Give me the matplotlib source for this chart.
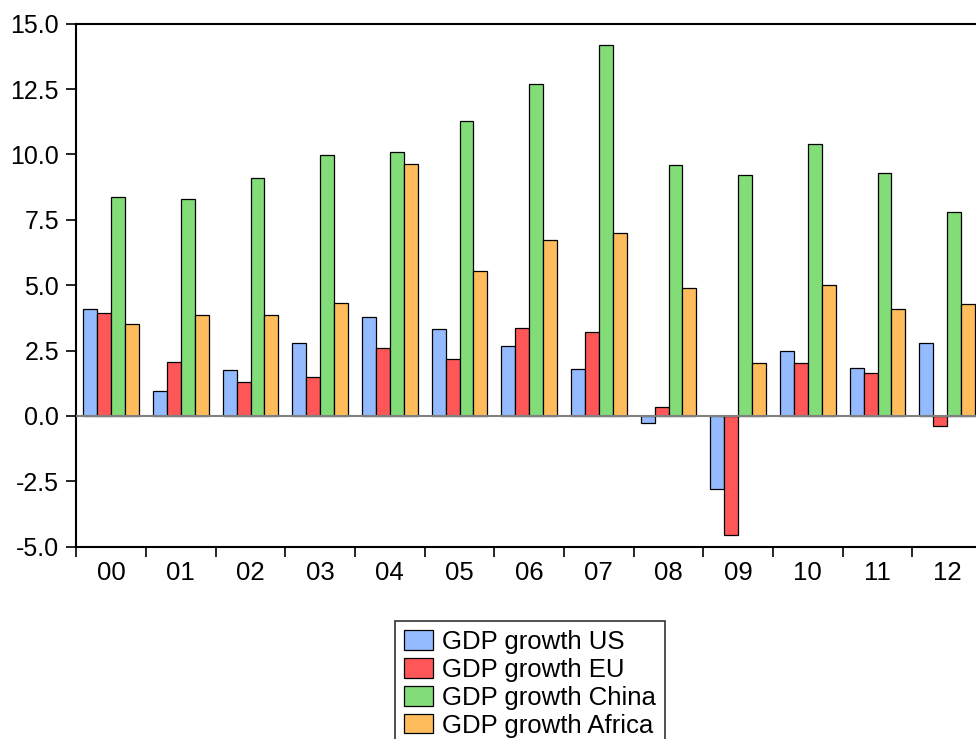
import matplotlib
matplotlib.use("Agg")
import matplotlib.pyplot as plt
import numpy as np

# GDP growth (%) by year, 2000-2012
years = ["00", "01", "02", "03", "04", "05", "06", "07", "08", "09", "10", "11", "12"]
gdp_us = [4.08, 0.94, 1.77, 2.80, 3.80, 3.34, 2.66, 1.79, -0.28, -2.80, 2.50, 1.85, 2.78]
gdp_eu = [3.94, 2.05, 1.29, 1.48, 2.61, 2.19, 3.38, 3.20, 0.36, -4.54, 2.04, 1.63, -0.37]
gdp_china = [8.39, 8.30, 9.09, 9.99, 10.10, 11.29, 12.70, 14.20, 9.61, 9.20, 10.39, 9.29, 7.80]
gdp_africa = [3.51, 3.87, 3.86, 4.33, 9.62, 5.56, 6.73, 7.01, 4.91, 2.04, 5.02, 4.08, 4.28]

series = [
    ("GDP growth US", gdp_us, "#94BBFF"),
    ("GDP growth EU", gdp_eu, "#FF5757"),
    ("GDP growth China", gdp_china, "#82DC78"),
    ("GDP growth Africa", gdp_africa, "#FFBC5C"),
]

plt.rcParams['font.family'] = ['Liberation Sans', 'DejaVu Sans']

fig = plt.figure(figsize=(9.76, 7.39), dpi=100)
ax = fig.add_axes([0.0782, 0.2602, 0.928, 0.7078])

n = len(years)
x = np.arange(n) + 0.5
w = 0.2
handles = []
for j, (name, vals, col) in enumerate(series):
    b = ax.bar(x + (j - 1.5) * w, vals, width=w, color=col,
               edgecolor="black", linewidth=0.9, label=name, zorder=2)
    handles.append(b)

ax.axhline(0, color="#808080", linewidth=1.5, zorder=3)

ax.set_xlim(0, n)
ax.set_ylim(-5, 15)
ax.set_yticks(np.arange(-5, 15.1, 2.5))
ax.set_yticklabels([f"{v:.1f}" for v in np.arange(-5, 15.1, 2.5)])

# ticks at group boundaries, labels centred
ax.set_xticks(np.arange(0, n + 1))
ax.set_xticklabels([])
ax.set_xticks(x, minor=True)
ax.set_xticklabels(years, minor=True)
ax.tick_params(axis="x", which="minor", length=0, labelsize=18.5, pad=10)
ax.tick_params(axis="x", which="major", length=7.5, width=1.2, direction="out")
ax.tick_params(axis="y", length=7.5, width=1.2, labelsize=18, pad=5)

for side in ["left", "top", "bottom"]:
    ax.spines[side].set_linewidth(1.5)
ax.spines["right"].set_visible(False)

leg = fig.legend(handles=handles, loc="upper center",
                 bbox_to_anchor=(0.543, 1 - 621 / 739),
                 bbox_transform=fig.transFigure,
                 fontsize=18.5, frameon=True, fancybox=False,
                 borderpad=0.35, labelspacing=0.15, handlelength=1.13,
                 handleheight=0.8, handletextpad=0.35, borderaxespad=0)
leg.get_frame().set_edgecolor("black")
leg.get_frame().set_linewidth(1.2)

fig.savefig("out.png", dpi=100)
